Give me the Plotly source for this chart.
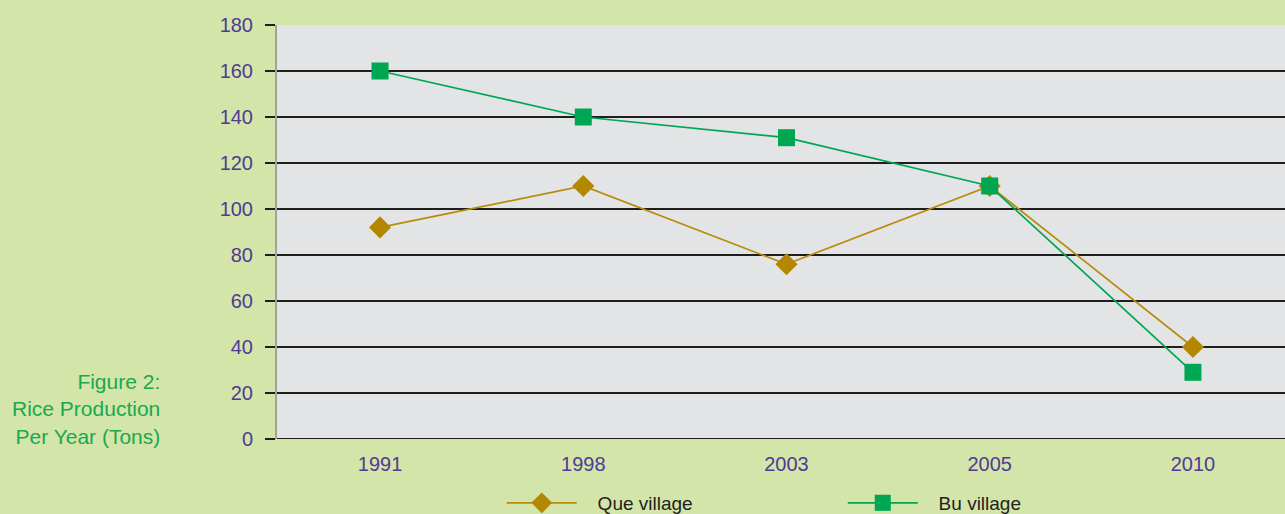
import plotly.graph_objects as go

years = ["1991", "1998", "2003", "2005", "2010"]
que_village = [92, 110, 76, 110, 40]
bu_village = [160, 140, 131, 110, 29]
y_ticks = [0, 20, 40, 60, 80, 100, 120, 140, 160, 180]

xs = list(range(len(years)))
purple = "#4f3a96"
font_family = "Liberation Sans, Arial, sans-serif"

fig = go.Figure()
fig.add_trace(go.Scatter(
    x=xs, y=que_village, name="\u00a0\u00a0\u00a0Que village", mode="lines+markers",
    line=dict(color="#b88c0a", width=1.7),
    marker=dict(symbol="diamond", size=17, color="#b38800"),
))
fig.add_trace(go.Scatter(
    x=xs, y=bu_village, name="\u00a0\u00a0\u00a0Bu village", mode="lines+markers",
    line=dict(color="#00a651", width=1.7),
    marker=dict(symbol="square", size=17, color="#00a651"),
))

fig.update_layout(
    width=1285, height=514,
    margin=dict(l=277, r=0, t=25, b=75, autoexpand=False),
    paper_bgcolor="#d3e5a8",
    plot_bgcolor="#e2e4e6",
    font=dict(family=font_family, size=20, color=purple),
    showlegend=True,
    legend=dict(
        orientation="h", x=0.223, xanchor="left",
        yref="container", y=1 - 503 / 514, yanchor="middle",
        font=dict(size=19, color="#231f20"), itemwidth=70, entrywidth=256,
        entrywidthmode="pixels", bgcolor="rgba(0,0,0,0)",
    ),
    xaxis=dict(
        range=[-0.507, 4.453], tickvals=xs, ticktext=years, automargin=False,
        showgrid=False, zeroline=False, showline=False, ticks="",
        ticklabelstandoff=11, tickfont=dict(color=purple, size=20),
    ),
    yaxis=dict(
        range=[0, 180], tickvals=y_ticks, showgrid=True, automargin=False,
        gridcolor="#1e1e1e", gridwidth=1.5, zeroline=False,
        showline=True, linecolor="#a3a39a", linewidth=2,
        ticks="outside", ticklen=10, tickcolor="#1e1e1e", tickwidth=1.5,
        ticklabelstandoff=8, tickfont=dict(color=purple, size=20),
    ),
    shapes=[dict(type="line", xref="paper", yref="y", x0=0, x1=1, y0=0, y1=0,
                 line=dict(color="#1e1e1e", width=2))],
    annotations=[dict(
        xref="paper", yref="paper", x=-0.1141, xanchor="right",
        y=0.0725, yanchor="middle", showarrow=False, align="right",
        text="Figure 2:<br>Rice Production<br>Per Year (Tons)",
        font=dict(family=font_family, size=21, color="#1aa84f"),
    )],
)

fig.write_html("out.html", config={"displayModeBar": False},
               post_script="document.body.style.margin='0';")
